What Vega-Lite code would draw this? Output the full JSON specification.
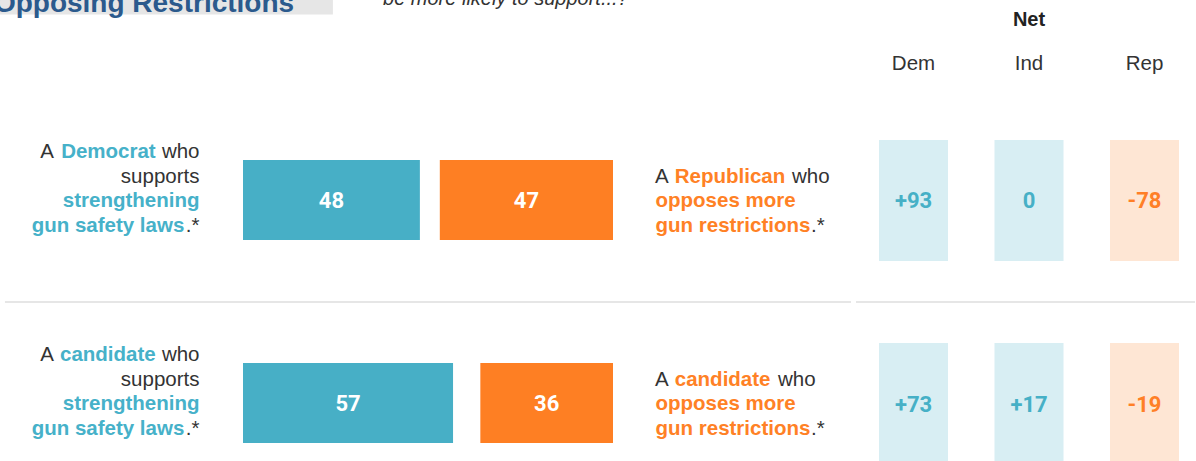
{
  "$schema": "https://vega.github.io/schema/vega-lite/v6.json",
  "width": 1196,
  "height": 461,
  "autosize": {"type": "none"},
  "padding": 0,
  "background": "#ffffff",
  "config": {
    "view": {"stroke": null},
    "axis": {"disable": true},
    "legend": {"disable": true},
    "text": {"font": "Liberation Sans"}
  },
  "datasets": {
    "bars": [
      {"row": "r1", "side": "support", "value": 48},
      {"row": "r1", "side": "oppose", "value": 47},
      {"row": "r2", "side": "support", "value": 57},
      {"row": "r2", "side": "oppose", "value": 36}
    ],
    "net": [
      {"row": "r1", "party": "Dem", "label": "+93"},
      {"row": "r1", "party": "Ind", "label": "0"},
      {"row": "r1", "party": "Rep", "label": "-78"},
      {"row": "r2", "party": "Dem", "label": "+73"},
      {"row": "r2", "party": "Ind", "label": "+17"},
      {"row": "r2", "party": "Rep", "label": "-19"}
    ],
    "labels": [
      {"side": "L", "row": "r1", "line": 1, "seg": 1, "text": "A", "emph": false},
      {"side": "L", "row": "r1", "line": 1, "seg": 2, "text": "Democrat", "emph": true},
      {"side": "L", "row": "r1", "line": 1, "seg": 3, "text": "who", "emph": false},
      {"side": "L", "row": "r1", "line": 2, "seg": 1, "text": "supports", "emph": false},
      {"side": "L", "row": "r1", "line": 3, "seg": 1, "text": "strengthening", "emph": true},
      {"side": "L", "row": "r1", "line": 4, "seg": 1, "text": "gun safety laws", "emph": true},
      {"side": "L", "row": "r1", "line": 4, "seg": 2, "text": ".*", "emph": false},
      {"side": "L", "row": "r2", "line": 1, "seg": 1, "text": "A", "emph": false},
      {"side": "L", "row": "r2", "line": 1, "seg": 2, "text": "candidate", "emph": true},
      {"side": "L", "row": "r2", "line": 1, "seg": 3, "text": "who", "emph": false},
      {"side": "L", "row": "r2", "line": 2, "seg": 1, "text": "supports", "emph": false},
      {"side": "L", "row": "r2", "line": 3, "seg": 1, "text": "strengthening", "emph": true},
      {"side": "L", "row": "r2", "line": 4, "seg": 1, "text": "gun safety laws", "emph": true},
      {"side": "L", "row": "r2", "line": 4, "seg": 2, "text": ".*", "emph": false},
      {"side": "R", "row": "r1", "line": 2, "seg": 1, "text": "A", "emph": false},
      {"side": "R", "row": "r1", "line": 2, "seg": 2, "text": "Republican", "emph": true},
      {"side": "R", "row": "r1", "line": 2, "seg": 3, "text": "who", "emph": false},
      {"side": "R", "row": "r1", "line": 3, "seg": 1, "text": "opposes more", "emph": true},
      {"side": "R", "row": "r1", "line": 4, "seg": 1, "text": "gun restrictions", "emph": true},
      {"side": "R", "row": "r1", "line": 4, "seg": 2, "text": ".*", "emph": false},
      {"side": "R", "row": "r2", "line": 2, "seg": 1, "text": "A", "emph": false},
      {"side": "R", "row": "r2", "line": 2, "seg": 2, "text": "candidate", "emph": true},
      {"side": "R", "row": "r2", "line": 2, "seg": 3, "text": "who", "emph": false},
      {"side": "R", "row": "r2", "line": 3, "seg": 1, "text": "opposes more", "emph": true},
      {"side": "R", "row": "r2", "line": 4, "seg": 1, "text": "gun restrictions", "emph": true},
      {"side": "R", "row": "r2", "line": 4, "seg": 2, "text": ".*", "emph": false}
    ],
    "titles": [
      {"key": "title", "text": "Opposing Restrictions"},
      {"key": "sub", "text": "be more likely to support...?"},
      {"key": "net", "text": "Net"}
    ],
    "one": [{"k": 1}]
  },
  "layer": [
    {
      "layer": [
        {
          "data": {"name": "one"},
          "mark": {"type": "rect", "color": "#e6e6e6"},
          "encoding": {
            "x": {"datum": -68.7, "type": "quantitative", "scale": {"type": "linear", "domain": [0, 100], "range": [243, 611.5], "zero": false, "nice": false}},
            "x2": {"datum": 24.4},
            "y": {"datum": "r1", "type": "nominal", "bandPosition": -2.2, "scale": {"type": "band", "domain": ["r1", "r2"], "range": [160, 443], "paddingInner": 0.606, "paddingOuter": 0}},
            "y2": {"datum": "r1", "bandPosition": -1.82}
          }
        },
        {
          "data": {"name": "titles"},
          "transform": [{"filter": "datum.key === 'title'"}],
          "mark": {"type": "text", "align": "left", "baseline": "alphabetic", "fontSize": 28, "fontWeight": "bold", "color": "#2b5a8d"},
          "encoding": {
            "x": {"datum": -67.6, "type": "quantitative", "scale": {"type": "linear", "domain": [0, 100], "range": [243, 611.5], "zero": false, "nice": false}},
            "y": {"datum": "r1", "type": "nominal", "bandPosition": -1.846, "scale": {"type": "band", "domain": ["r1", "r2"], "range": [160, 443], "paddingInner": 0.606, "paddingOuter": 0}},
            "text": {"field": "text"}
          }
        },
        {
          "data": {"name": "titles"},
          "transform": [{"filter": "datum.key === 'sub'"}],
          "mark": {"type": "text", "align": "left", "baseline": "alphabetic", "fontSize": 20, "fontStyle": "italic", "color": "#333333"},
          "encoding": {
            "x": {"datum": 38.0, "type": "quantitative", "scale": {"type": "linear", "domain": [0, 100], "range": [243, 611.5], "zero": false, "nice": false}},
            "y": {"datum": "r1", "type": "nominal", "bandPosition": -1.9375, "scale": {"type": "band", "domain": ["r1", "r2"], "range": [160, 443], "paddingInner": 0.606, "paddingOuter": 0}},
            "text": {"field": "text"}
          }
        },
        {
          "data": {"name": "one"},
          "mark": {"type": "rule", "color": "#e6e6e6", "strokeWidth": 2},
          "encoding": {
            "x": {"datum": -64.6, "type": "quantitative", "scale": {"type": "linear", "domain": [0, 100], "range": [243, 611.5], "zero": false, "nice": false}},
            "x2": {"datum": 165.0},
            "y": {"datum": "r2", "type": "nominal", "bandPosition": -0.7625, "scale": {"type": "band", "domain": ["r1", "r2"], "range": [160, 443], "paddingInner": 0.606, "paddingOuter": 0}}
          }
        },
        {
          "data": {"name": "bars"},
          "transform": [{"filter": "datum.side === 'support'"}],
          "mark": {"type": "bar", "color": "#47afc6", "height": 80},
          "encoding": {
            "x": {"field": "value", "type": "quantitative", "scale": {"type": "linear", "domain": [0, 100], "range": [243, 611.5], "zero": false, "nice": false}},
            "x2": {"datum": 0},
            "y": {"field": "row", "type": "nominal", "scale": {"type": "band", "domain": ["r1", "r2"], "range": [160, 443], "paddingInner": 0.606, "paddingOuter": 0}}
          }
        },
        {
          "data": {"name": "labels"},
          "transform": [{"filter": "datum.side === 'L' && datum.line === 1 && datum.seg === 1"}],
          "mark": {"type": "text", "align": "right", "baseline": "alphabetic", "dx": -189, "fontSize": 20.5, "color": "#333333"},
          "encoding": {
            "x": {"datum": 0, "type": "quantitative", "scale": {"type": "linear", "domain": [0, 100], "range": [243, 611.5], "zero": false, "nice": false}},
            "y": {"field": "row", "type": "nominal", "scale": {"type": "band", "domain": ["r1", "r2"], "range": [160, 443], "paddingInner": 0.606, "paddingOuter": 0}},
            "yOffset": {"field": "line", "type": "ordinal", "scale": {"type": "point", "domain": [1, 2, 3, 4], "range": [-2, 71.5], "padding": 0}},
            "text": {"field": "text"}
          }
        },
        {
          "data": {"name": "labels"},
          "transform": [{"filter": "datum.side === 'L' && datum.line === 1 && datum.seg === 2"}],
          "mark": {"type": "text", "align": "right", "baseline": "alphabetic", "dx": -87.3, "fontSize": 20.5, "fontWeight": "bold", "color": "#46b1c9"},
          "encoding": {
            "x": {"datum": 0, "type": "quantitative", "scale": {"type": "linear", "domain": [0, 100], "range": [243, 611.5], "zero": false, "nice": false}},
            "y": {"field": "row", "type": "nominal", "scale": {"type": "band", "domain": ["r1", "r2"], "range": [160, 443], "paddingInner": 0.606, "paddingOuter": 0}},
            "yOffset": {"field": "line", "type": "ordinal", "scale": {"type": "point", "domain": [1, 2, 3, 4], "range": [-2, 71.5], "padding": 0}},
            "text": {"field": "text"}
          }
        },
        {
          "data": {"name": "labels"},
          "transform": [{"filter": "datum.side === 'L' && !datum.emph && !(datum.line === 1 && datum.seg === 1)"}],
          "mark": {"type": "text", "align": "right", "baseline": "alphabetic", "dx": -43.5, "fontSize": 20.5, "color": "#333333"},
          "encoding": {
            "x": {"datum": 0, "type": "quantitative", "scale": {"type": "linear", "domain": [0, 100], "range": [243, 611.5], "zero": false, "nice": false}},
            "y": {"field": "row", "type": "nominal", "scale": {"type": "band", "domain": ["r1", "r2"], "range": [160, 443], "paddingInner": 0.606, "paddingOuter": 0}},
            "yOffset": {"field": "line", "type": "ordinal", "scale": {"type": "point", "domain": [1, 2, 3, 4], "range": [-2, 71.5], "padding": 0}},
            "text": {"field": "text"}
          }
        },
        {
          "data": {"name": "labels"},
          "transform": [{"filter": "datum.side === 'L' && datum.line === 3"}],
          "mark": {"type": "text", "align": "right", "baseline": "alphabetic", "dx": -43.5, "fontSize": 20.5, "fontWeight": "bold", "color": "#46b1c9"},
          "encoding": {
            "x": {"datum": 0, "type": "quantitative", "scale": {"type": "linear", "domain": [0, 100], "range": [243, 611.5], "zero": false, "nice": false}},
            "y": {"field": "row", "type": "nominal", "scale": {"type": "band", "domain": ["r1", "r2"], "range": [160, 443], "paddingInner": 0.606, "paddingOuter": 0}},
            "yOffset": {"field": "line", "type": "ordinal", "scale": {"type": "point", "domain": [1, 2, 3, 4], "range": [-2, 71.5], "padding": 0}},
            "text": {"field": "text"}
          }
        },
        {
          "data": {"name": "labels"},
          "transform": [{"filter": "datum.side === 'L' && datum.line === 4 && datum.seg === 1"}],
          "mark": {"type": "text", "align": "right", "baseline": "alphabetic", "dx": -58.7, "fontSize": 20.5, "fontWeight": "bold", "color": "#46b1c9"},
          "encoding": {
            "x": {"datum": 0, "type": "quantitative", "scale": {"type": "linear", "domain": [0, 100], "range": [243, 611.5], "zero": false, "nice": false}},
            "y": {"field": "row", "type": "nominal", "scale": {"type": "band", "domain": ["r1", "r2"], "range": [160, 443], "paddingInner": 0.606, "paddingOuter": 0}},
            "yOffset": {"field": "line", "type": "ordinal", "scale": {"type": "point", "domain": [1, 2, 3, 4], "range": [-2, 71.5], "padding": 0}},
            "text": {"field": "text"}
          }
        },
        {
          "data": {"name": "labels"},
          "transform": [{"filter": "datum.side === 'R' && datum.line === 2 && datum.seg === 1"}],
          "mark": {"type": "text", "align": "left", "baseline": "alphabetic", "dx": 43.5, "fontSize": 20.5, "color": "#333333"},
          "encoding": {
            "x": {"datum": 100, "type": "quantitative", "scale": {"type": "linear", "domain": [0, 100], "range": [243, 611.5], "zero": false, "nice": false}},
            "y": {"field": "row", "type": "nominal", "scale": {"type": "band", "domain": ["r1", "r2"], "range": [160, 443], "paddingInner": 0.606, "paddingOuter": 0}},
            "yOffset": {"field": "line", "type": "ordinal", "scale": {"type": "point", "domain": [1, 2, 3, 4], "range": [-2, 71.5], "padding": 0}},
            "text": {"field": "text"}
          }
        },
        {
          "data": {"name": "labels"},
          "transform": [{"filter": "datum.side === 'R' && datum.line === 2 && datum.seg === 2"}],
          "mark": {"type": "text", "align": "left", "baseline": "alphabetic", "dx": 63.3, "fontSize": 20.5, "fontWeight": "bold", "color": "#ff8125"},
          "encoding": {
            "x": {"datum": 100, "type": "quantitative", "scale": {"type": "linear", "domain": [0, 100], "range": [243, 611.5], "zero": false, "nice": false}},
            "y": {"field": "row", "type": "nominal", "scale": {"type": "band", "domain": ["r1", "r2"], "range": [160, 443], "paddingInner": 0.606, "paddingOuter": 0}},
            "yOffset": {"field": "line", "type": "ordinal", "scale": {"type": "point", "domain": [1, 2, 3, 4], "range": [-2, 71.5], "padding": 0}},
            "text": {"field": "text"}
          }
        },
        {
          "data": {"name": "labels"},
          "transform": [{"filter": "datum.side === 'R' && datum.line === 2 && datum.seg === 3 && datum.row === 'r1'"}],
          "mark": {"type": "text", "align": "left", "baseline": "alphabetic", "dx": 180.5, "fontSize": 20.5, "color": "#333333"},
          "encoding": {
            "x": {"datum": 100, "type": "quantitative", "scale": {"type": "linear", "domain": [0, 100], "range": [243, 611.5], "zero": false, "nice": false}},
            "y": {"field": "row", "type": "nominal", "scale": {"type": "band", "domain": ["r1", "r2"], "range": [160, 443], "paddingInner": 0.606, "paddingOuter": 0}},
            "yOffset": {"field": "line", "type": "ordinal", "scale": {"type": "point", "domain": [1, 2, 3, 4], "range": [-2, 71.5], "padding": 0}},
            "text": {"field": "text"}
          }
        },
        {
          "data": {"name": "labels"},
          "transform": [{"filter": "datum.side === 'R' && datum.line === 2 && datum.seg === 3 && datum.row === 'r2'"}],
          "mark": {"type": "text", "align": "left", "baseline": "alphabetic", "dx": 166.5, "fontSize": 20.5, "color": "#333333"},
          "encoding": {
            "x": {"datum": 100, "type": "quantitative", "scale": {"type": "linear", "domain": [0, 100], "range": [243, 611.5], "zero": false, "nice": false}},
            "y": {"field": "row", "type": "nominal", "scale": {"type": "band", "domain": ["r1", "r2"], "range": [160, 443], "paddingInner": 0.606, "paddingOuter": 0}},
            "yOffset": {"field": "line", "type": "ordinal", "scale": {"type": "point", "domain": [1, 2, 3, 4], "range": [-2, 71.5], "padding": 0}},
            "text": {"field": "text"}
          }
        },
        {
          "data": {"name": "labels"},
          "transform": [{"filter": "datum.side === 'R' && datum.emph && datum.line >= 3"}],
          "mark": {"type": "text", "align": "left", "baseline": "alphabetic", "dx": 44, "fontSize": 20.5, "fontWeight": "bold", "color": "#ff8125"},
          "encoding": {
            "x": {"datum": 100, "type": "quantitative", "scale": {"type": "linear", "domain": [0, 100], "range": [243, 611.5], "zero": false, "nice": false}},
            "y": {"field": "row", "type": "nominal", "scale": {"type": "band", "domain": ["r1", "r2"], "range": [160, 443], "paddingInner": 0.606, "paddingOuter": 0}},
            "yOffset": {"field": "line", "type": "ordinal", "scale": {"type": "point", "domain": [1, 2, 3, 4], "range": [-2, 71.5], "padding": 0}},
            "text": {"field": "text"}
          }
        },
        {
          "data": {"name": "labels"},
          "transform": [{"filter": "datum.side === 'R' && datum.line === 4 && datum.seg === 2"}],
          "mark": {"type": "text", "align": "left", "baseline": "alphabetic", "dx": 199.5, "fontSize": 20.5, "color": "#333333"},
          "encoding": {
            "x": {"datum": 100, "type": "quantitative", "scale": {"type": "linear", "domain": [0, 100], "range": [243, 611.5], "zero": false, "nice": false}},
            "y": {"field": "row", "type": "nominal", "scale": {"type": "band", "domain": ["r1", "r2"], "range": [160, 443], "paddingInner": 0.606, "paddingOuter": 0}},
            "yOffset": {"field": "line", "type": "ordinal", "scale": {"type": "point", "domain": [1, 2, 3, 4], "range": [-2, 71.5], "padding": 0}},
            "text": {"field": "text"}
          }
        }
      ]
    },
    {
      "data": {"name": "bars"},
      "transform": [{"filter": "datum.side === 'oppose'"}],
      "mark": {"type": "bar", "color": "#fe7f23", "height": 80},
      "encoding": {
        "x": {"field": "value", "type": "quantitative", "scale": {"type": "linear", "domain": [0, 100], "range": [613, 244.5], "zero": false, "nice": false}},
        "x2": {"datum": 0},
        "y": {"field": "row", "type": "nominal", "scale": {"type": "band", "domain": ["r1", "r2"], "range": [160, 443], "paddingInner": 0.606, "paddingOuter": 0}}
      }
    },
    {
      "data": {"name": "bars"},
      "transform": [{"filter": "datum.side === 'support'"}],
      "mark": {"type": "text", "align": "center", "baseline": "middle", "dy": 1, "font": "Roboto", "fontSize": 22, "fontWeight": "bold", "color": "#ffffff"},
      "encoding": {
        "x": {"field": "value", "type": "quantitative", "scale": {"type": "linear", "domain": [0, 100], "range": [243, 427.25], "zero": false, "nice": false}},
        "y": {"field": "row", "type": "nominal", "bandPosition": 0.5, "scale": {"type": "band", "domain": ["r1", "r2"], "range": [160, 443], "paddingInner": 0.606, "paddingOuter": 0}},
        "text": {"field": "value", "type": "quantitative"}
      }
    },
    {
      "data": {"name": "bars"},
      "transform": [{"filter": "datum.side === 'oppose'"}],
      "mark": {"type": "text", "align": "center", "baseline": "middle", "dy": 1, "font": "Roboto", "fontSize": 22, "fontWeight": "bold", "color": "#ffffff"},
      "encoding": {
        "x": {"field": "value", "type": "quantitative", "scale": {"type": "linear", "domain": [0, 100], "range": [613, 428.75], "zero": false, "nice": false}},
        "y": {"field": "row", "type": "nominal", "bandPosition": 0.5, "scale": {"type": "band", "domain": ["r1", "r2"], "range": [160, 443], "paddingInner": 0.606, "paddingOuter": 0}},
        "text": {"field": "value", "type": "quantitative"}
      }
    },
    {
      "layer": [
        {
          "data": {"name": "net"},
          "mark": {"type": "rect", "width": 69, "height": 121},
          "encoding": {
            "x": {"field": "party", "type": "nominal", "scale": {"type": "band", "domain": ["Dem", "Ind", "Rep"], "range": [879, 1179], "paddingInner": 0.4026, "paddingOuter": 0}},
            "y": {"field": "row", "type": "nominal", "scale": {"type": "band", "domain": ["r1", "r2"], "range": [140, 464], "paddingInner": 0.404, "paddingOuter": 0}},
            "fill": {"field": "party", "type": "nominal", "scale": {"domain": ["Dem", "Ind", "Rep"], "range": ["#d8eef3", "#d8eef3", "#fee6d4"]}}
          }
        },
        {
          "data": {"name": "net"},
          "mark": {"type": "text", "align": "center", "baseline": "middle", "dy": 1, "font": "Roboto", "fontSize": 22, "fontWeight": "bold"},
          "encoding": {
            "x": {"field": "party", "type": "nominal", "bandPosition": 0.5, "scale": {"type": "band", "domain": ["Dem", "Ind", "Rep"], "range": [879, 1179], "paddingInner": 0.4026, "paddingOuter": 0}},
            "y": {"field": "row", "type": "nominal", "bandPosition": 0.5, "scale": {"type": "band", "domain": ["r1", "r2"], "range": [140, 464], "paddingInner": 0.404, "paddingOuter": 0}},
            "color": {"field": "party", "type": "nominal", "scale": {"domain": ["Dem", "Ind", "Rep"], "range": ["#46b0c6", "#46b0c6", "#ff7f27"]}},
            "text": {"field": "label"}
          }
        },
        {
          "data": {"name": "net"},
          "transform": [{"filter": "datum.row === 'r1'"}],
          "mark": {"type": "text", "align": "center", "baseline": "alphabetic", "fontSize": 20.5, "color": "#333333"},
          "encoding": {
            "x": {"field": "party", "type": "nominal", "bandPosition": 0.5, "scale": {"type": "band", "domain": ["Dem", "Ind", "Rep"], "range": [879, 1179], "paddingInner": 0.4026, "paddingOuter": 0}},
            "y": {"datum": "r1", "type": "nominal", "bandPosition": -0.5785, "scale": {"type": "band", "domain": ["r1", "r2"], "range": [140, 464], "paddingInner": 0.404, "paddingOuter": 0}},
            "text": {"field": "party"}
          }
        },
        {
          "data": {"name": "titles"},
          "transform": [{"filter": "datum.key === 'net'"}],
          "mark": {"type": "text", "align": "center", "baseline": "alphabetic", "fontSize": 20, "fontWeight": "bold", "color": "#222222"},
          "encoding": {
            "x": {"datum": "Ind", "type": "nominal", "bandPosition": 0.5, "scale": {"type": "band", "domain": ["Dem", "Ind", "Rep"], "range": [879, 1179], "paddingInner": 0.4026, "paddingOuter": 0}},
            "y": {"datum": "r1", "type": "nominal", "bandPosition": -0.942, "scale": {"type": "band", "domain": ["r1", "r2"], "range": [140, 464], "paddingInner": 0.404, "paddingOuter": 0}},
            "text": {"field": "text"}
          }
        },
        {
          "data": {"name": "one"},
          "mark": {"type": "rule", "color": "#e6e6e6", "strokeWidth": 2},
          "encoding": {
            "x": {"datum": "Dem", "type": "nominal", "bandPosition": -0.333, "scale": {"type": "band", "domain": ["Dem", "Ind", "Rep"], "range": [879, 1179], "paddingInner": 0.4026, "paddingOuter": 0}},
            "x2": {"datum": "Rep", "bandPosition": 1.232},
            "y": {"datum": "r2", "type": "nominal", "bandPosition": -0.339, "scale": {"type": "band", "domain": ["r1", "r2"], "range": [140, 464], "paddingInner": 0.404, "paddingOuter": 0}}
          }
        }
      ]
    }
  ],
  "resolve": {"scale": {"x": "independent", "y": "independent"}}
}
